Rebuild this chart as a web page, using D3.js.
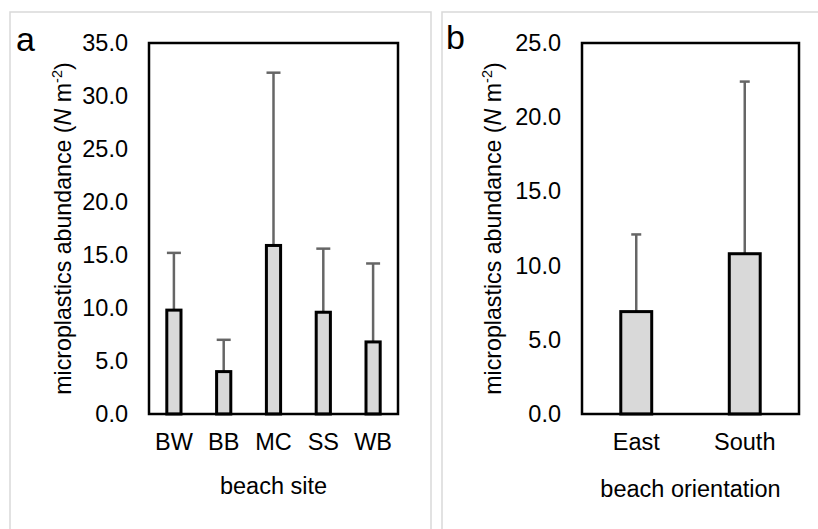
<!DOCTYPE html>
<html>
<head>
<meta charset="utf-8">
<script src="https://cdn.jsdelivr.net/npm/d3@7"></script>
<style>
  html, body { margin: 0; padding: 0; background: #fff; }
  svg { display: block; font-family: "Liberation Sans", Arial, sans-serif; }
</style>
</head>
<body>
<svg id="chart" width="818" height="529"></svg>
<script>
// ---- data ----
const sitesA = ["BW", "BB", "MC", "SS", "WB"];
const meanA = [9.8, 4.0, 15.9, 9.6, 6.8];
const errA = [5.4, 3.0, 16.3, 6.0, 7.4];
const ticksA = [0, 5, 10, 15, 20, 25, 30, 35];

const orientB = ["East", "South"];
const meanB = [6.9, 10.8];
const errB = [5.2, 11.6];
const ticksB = [0, 5, 10, 15, 20, 25];

const svg = d3.select("#chart");

// panel frames
svg.append("rect").attr("x", 10).attr("y", 12).attr("width", 421).attr("height", 540)
  .attr("fill", "none").attr("stroke", "#d9d9d9").attr("stroke-width", 1.5);
svg.append("rect").attr("x", 442).attr("y", 12).attr("width", 400).attr("height", 540)
  .attr("fill", "none").attr("stroke", "#d9d9d9").attr("stroke-width", 1.5);

function panel(opts) {
  const { cats, means, errs, ticks, yMax, left, right, top, bottom,
          letter, letterX, letterY, xTitle, xTitleY, yTitleX, capW } = opts;
  const g = svg.append("g");
  const y = d3.scaleLinear().domain([0, yMax]).range([bottom, top]);
  const x = d3.scaleBand().domain(cats).range([left, right])
    .paddingInner(0.715).paddingOuter(0.715 / 2);

  // y tick labels
  const yAxis = d3.axisLeft(y).tickValues(ticks).tickFormat(d3.format(".1f"))
    .tickSize(0).tickPadding(21);
  const ya = g.append("g").attr("transform", `translate(${left},0)`).call(yAxis);
  ya.select(".domain").remove();
  ya.selectAll("text").attr("font-size", 23.5).attr("fill", "#000")
    .attr("font-family", '"Liberation Sans", Arial, sans-serif');

  // x tick labels
  const xAxis = d3.axisBottom(x).tickSize(0).tickPadding(19);
  const xa = g.append("g").attr("transform", `translate(0,${bottom})`).call(xAxis);
  xa.select(".domain").remove();
  xa.selectAll("text").attr("font-size", 23.5).attr("fill", "#000")
    .attr("font-family", '"Liberation Sans", Arial, sans-serif');

  const data = cats.map((c, i) => ({ c, m: means[i], e: errs[i] }));

  // error bars (upper only)
  const eb = g.append("g").attr("stroke", "#666").attr("stroke-width", 2.5);
  eb.selectAll("line.v").data(data).join("line").attr("class", "v")
    .attr("x1", d => x(d.c) + x.bandwidth() / 2).attr("x2", d => x(d.c) + x.bandwidth() / 2)
    .attr("y1", d => y(d.m)).attr("y2", d => y(d.m + d.e));
  eb.selectAll("line.c").data(data).join("line").attr("class", "c")
    .attr("x1", d => x(d.c) + x.bandwidth() / 2 - capW / 2)
    .attr("x2", d => x(d.c) + x.bandwidth() / 2 + capW / 2)
    .attr("y1", d => y(d.m + d.e)).attr("y2", d => y(d.m + d.e));

  // bars
  g.selectAll("rect.bar").data(data).join("rect").attr("class", "bar")
    .attr("x", d => x(d.c)).attr("width", x.bandwidth())
    .attr("y", d => y(d.m)).attr("height", d => y(0) - y(d.m))
    .attr("fill", "#d9d9d9").attr("stroke", "#000").attr("stroke-width", 3);

  // plot frame
  g.append("rect").attr("x", left).attr("y", top)
    .attr("width", right - left).attr("height", bottom - top)
    .attr("fill", "none").attr("stroke", "#000").attr("stroke-width", 2.5);

  // panel letter
  g.append("text").attr("x", letterX).attr("y", letterY).attr("font-size", 34)
    .attr("fill", "#000").text(letter);

  // x title
  g.append("text").attr("x", (left + right) / 2).attr("y", xTitleY)
    .attr("text-anchor", "middle").attr("font-size", 23.5).attr("fill", "#000").text(xTitle);

  // y title
  const yt = g.append("text")
    .attr("transform", `translate(${yTitleX},${(top + bottom) / 2 - 0}) rotate(-90)`)
    .attr("text-anchor", "middle").attr("font-size", 23.2).attr("fill", "#000");
  yt.append("tspan").text("microplastics abundance (");
  yt.append("tspan").attr("font-style", "italic").text("N");
  yt.append("tspan").text(" m");
  yt.append("tspan").attr("font-size", 14.5).attr("dy", -9).text("-2");
  yt.append("tspan").attr("dy", 9).text(")");
}

panel({
  cats: sitesA, means: meanA, errs: errA, ticks: ticksA, yMax: 35,
  left: 149, right: 398, top: 43, bottom: 414,
  letter: "a", letterX: 16, letterY: 51,
  xTitle: "beach site", xTitleY: 494, yTitleX: 71, capW: 14
});

panel({
  cats: orientB, means: meanB, errs: errB, ticks: ticksB, yMax: 25,
  left: 582, right: 799, top: 43, bottom: 414,
  letter: "b", letterX: 446, letterY: 49,
  xTitle: "beach orientation", xTitleY: 497, yTitleX: 501, capW: 10
});
</script>
</body>
</html>
